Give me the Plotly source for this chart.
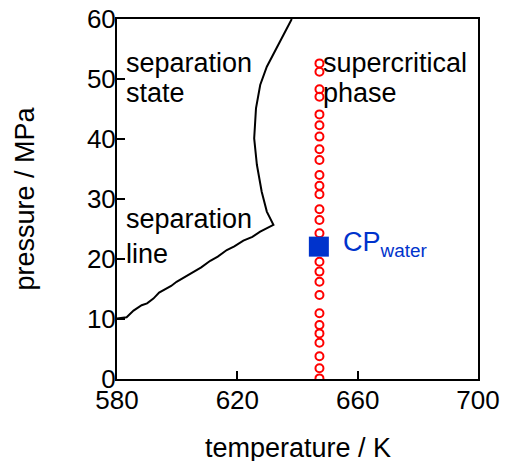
import plotly.graph_objects as go

# separation line (temperature K, pressure MPa)
line_T = [580.0, 583.2, 585.5, 588.2, 590.0, 592.1, 594.0, 596.0, 598.0, 599.8, 602.5, 605.4,
          608.0, 611.0, 613.5, 616.5, 619.0, 622.0, 625.0, 627.6, 629.8, 632.0,
          629.8, 628.1, 626.5, 625.6, 626.2, 627.6, 629.8, 638.1]
line_P = [10.1, 10.3, 11.4, 12.3, 12.6, 13.4, 14.4, 14.95, 15.5, 16.2, 17.0, 17.9,
          18.6, 19.7, 20.4, 21.5, 22.1, 23.05, 23.7, 24.55, 25.1, 25.7,
          27.9, 31.2, 35.7, 40.1, 45.1, 49.0, 52.05, 60.0]

# supercritical measurement points
sc_T = 647.3
sc_P = [52.6, 51.2, 48.3, 47.05, 44.1, 42.3, 40.4, 38.3, 36.5, 34.0, 32.2, 30.8, 28.3,
        26.5, 24.3, 22.9, 19.55, 17.9, 16.2, 14.0, 10.95, 9.0, 7.6, 6.05, 3.8, 1.8, 0.1]

# critical point of water
cp_T = [647.1]
cp_P = [22.06]

x_ticks = [580, 620, 660, 700]
y_ticks = [0, 10, 20, 30, 40, 50, 60]

x_title = "temperature / K"
y_title = "pressure / MPa"

FONT = "Liberation Sans, Arial, sans-serif"

fig = go.Figure()
fig.add_trace(go.Scatter(x=line_T, y=line_P, mode="lines",
                         line=dict(color="black", width=2), showlegend=False))
fig.add_trace(go.Scatter(x=[sc_T] * len(sc_P), y=sc_P, mode="markers",
                         marker=dict(symbol="circle-open", size=8, color="#ff0000",
                                     line=dict(width=2)), showlegend=False))
fig.add_trace(go.Scatter(x=cp_T, y=cp_P, mode="markers",
                         marker=dict(symbol="square", size=20, color="#0033cc"),
                         showlegend=False))

labels = [
    (582.4, 52.6, "separation"),
    (582.4, 47.6, "state"),
    (582.4, 26.6, "separation"),
    (582.4, 20.8, "line"),
    (647.9, 52.6, "supercritical"),
    (647.9, 47.6, "phase"),
]
for x, y, t in labels:
    fig.add_annotation(x=x, y=y, text=t, showarrow=False,
                       xanchor="left", yanchor="middle", align="left",
                       font=dict(family=FONT, size=27, color="black"))
fig.add_annotation(x=654.5, y=22.5, text="CP<sub>water</sub>", showarrow=False,
                   xanchor="left", yanchor="middle",
                   font=dict(family=FONT, size=27, color="#0033cc"))

# x axis title placed as a paper-anchored annotation for exact vertical placement
fig.add_annotation(x=0.5, y=0, xref="paper", yref="paper", text=x_title, showarrow=False,
                   xanchor="center", yanchor="top", yshift=-52,
                   font=dict(family=FONT, size=27, color="black"))

axis_common = dict(showgrid=False, zeroline=False, showline=True, linecolor="black",
                   linewidth=2, mirror=True, ticks="inside", ticklen=8, tickwidth=2,
                   tickcolor="black", automargin=False,
                   tickfont=dict(family=FONT, size=26, color="black"))
fig.update_xaxes(range=[580, 700], tickvals=x_ticks, ticktext=[str(v) for v in x_ticks],
                 ticklabelstandoff=-3, **axis_common)
fig.update_yaxes(range=[0, 60], tickvals=y_ticks, ticktext=[str(v) for v in y_ticks],
                 ticklabelstandoff=-6,
                 title=dict(text=y_title, font=dict(family=FONT, size=27, color="black"),
                            standoff=44),
                 **axis_common)
fig.update_layout(width=505, height=461, plot_bgcolor="white", paper_bgcolor="white",
                  margin=dict(l=117, r=27, t=19, b=82), font=dict(family=FONT))
fig.write_html("out.html", config={"displayModeBar": False},
               post_script="document.body.style.margin='0';document.body.style.overflow='hidden';")
